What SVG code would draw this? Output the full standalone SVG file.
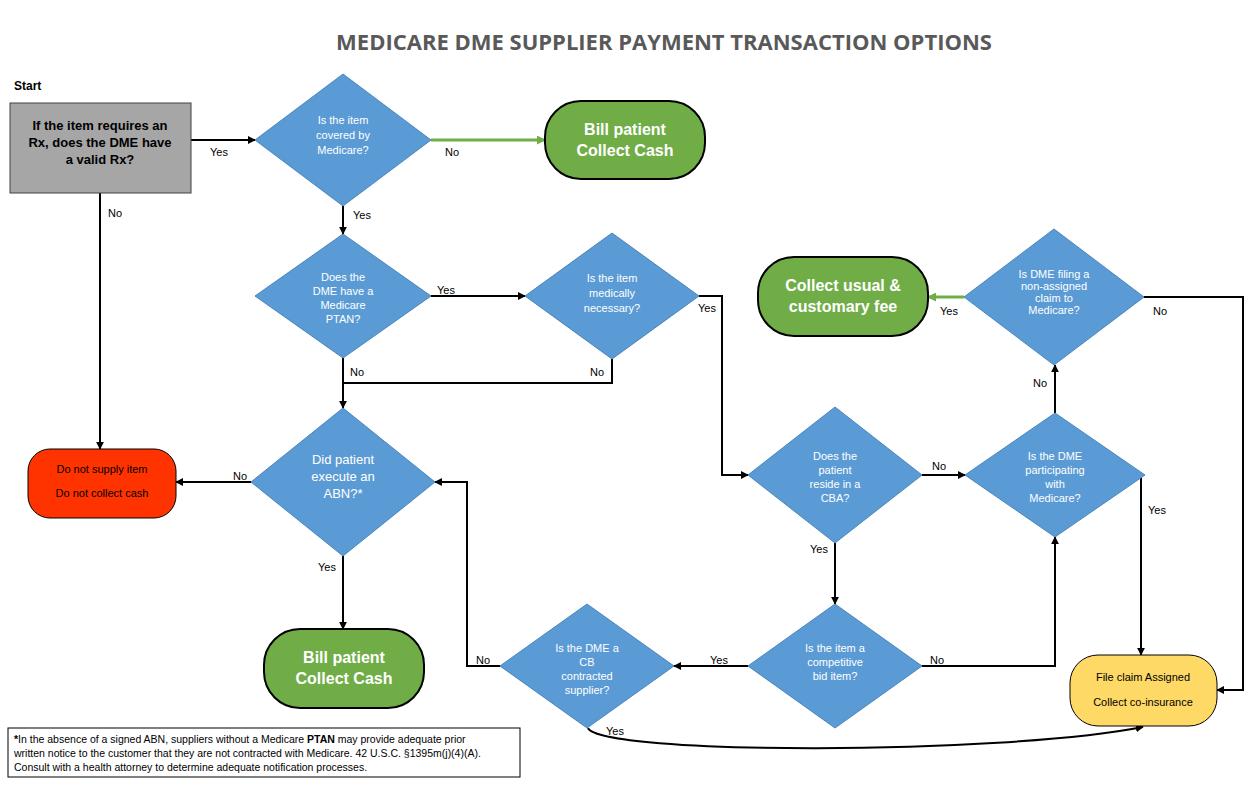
<svg xmlns="http://www.w3.org/2000/svg" width="1257" height="795" viewBox="0 0 1257 795">
<style>
.d{fill:#5b9bd5;stroke:#4a86be;stroke-width:1}
.dt{font-family:"Liberation Sans",Arial,sans-serif;font-size:11px;fill:#fff;text-anchor:middle}
.g{fill:#70ad47;stroke:#000;stroke-width:2}
.gt{font-family:"Liberation Sans",Arial,sans-serif;font-size:16px;font-weight:bold;fill:#fff;text-anchor:middle}
.l{font-family:"Liberation Sans",Arial,sans-serif;font-size:11px;fill:#000}
.c{fill:none;stroke:#000;stroke-width:2}
.cg{fill:none;stroke:#70ad47;stroke-width:3}
</style>
<defs>
<marker id="a" viewBox="0 0 10 10" refX="9" refY="5" markerWidth="4" markerHeight="4" orient="auto"><path d="M0,0L10,5L0,10z" fill="#000"/></marker>
<marker id="ag" viewBox="0 0 10 10" refX="9" refY="5" markerWidth="3" markerHeight="3" orient="auto"><path d="M0,0L10,5L0,10z" fill="#70ad47"/></marker>
</defs>
<rect width="1257" height="795" fill="#fff"/>
<text x="664" y="50" font-family="'Open Sans','Liberation Sans',sans-serif" font-size="22" font-weight="bold" fill="#595959" text-anchor="middle">MEDICARE DME SUPPLIER PAYMENT TRANSACTION OPTIONS</text>
<text x="14" y="90" font-family="'Liberation Sans',Arial,sans-serif" font-size="12" font-weight="bold">Start</text>

<g id="connectors">
<path class="c" d="M191,140H255" marker-end="url(#a)"/>
<path class="cg" d="M431,140H545" marker-end="url(#ag)"/>
<path class="c" d="M343,206V234" marker-end="url(#a)"/>
<path class="c" d="M100,193V449" marker-end="url(#a)"/>
<path class="c" d="M431,296H525" marker-end="url(#a)"/>
<path class="c" d="M343,358V408" marker-end="url(#a)"/>
<path class="c" d="M612,359V383H343"/>
<path class="c" d="M699,296H722V475H748" marker-end="url(#a)"/>
<path class="c" d="M251,482H176" marker-end="url(#a)"/>
<path class="c" d="M343,556V629" marker-end="url(#a)"/>
<path class="c" d="M922,475H965" marker-end="url(#a)"/>
<path class="c" d="M835,543V604" marker-end="url(#a)"/>
<path class="c" d="M1055,413V365" marker-end="url(#a)"/>
<path class="c" d="M1141,478V655" marker-end="url(#a)"/>
<path class="cg" d="M964,297H928" marker-end="url(#ag)"/>
<path class="c" d="M1144,297H1243V690H1217" marker-end="url(#a)"/>
<path class="c" d="M748,666H674" marker-end="url(#a)"/>
<path class="c" d="M922,666H1055V537" marker-end="url(#a)"/>
<path class="c" d="M500,666H467V482H435" marker-end="url(#a)"/>
<path class="c" d="M588,728C600,755 1000,755 1143,727" marker-end="url(#a)"/>
<text class="l" x="210" y="156">Yes</text>
<text class="l" x="445" y="156">No</text>
<text class="l" x="353" y="219">Yes</text>
<text class="l" x="108" y="217">No</text>
<text class="l" x="437" y="294">Yes</text>
<text class="l" x="350" y="376">No</text>
<text class="l" x="590" y="376">No</text>
<text class="l" x="698" y="312">Yes</text>
<text class="l" x="233" y="480">No</text>
<text class="l" x="318" y="571">Yes</text>
<text class="l" x="932" y="470">No</text>
<text class="l" x="810" y="553">Yes</text>
<text class="l" x="1033" y="387">No</text>
<text class="l" x="1148" y="514">Yes</text>
<text class="l" x="940" y="315">Yes</text>
<text class="l" x="1153" y="315">No</text>
<text class="l" x="710" y="664">Yes</text>
<text class="l" x="930" y="664">No</text>
<text class="l" x="476" y="664">No</text>
<text class="l" x="606" y="735">Yes</text>
</g>

<g id="start">
<rect x="10" y="103" width="181" height="90" fill="#a6a6a6" stroke="#404040"/>
<text font-family="'Liberation Sans',Arial,sans-serif" font-size="13" font-weight="bold" fill="#000" text-anchor="middle"><tspan x="100" y="130">If the item requires an</tspan><tspan x="100" y="147">Rx, does the DME have</tspan><tspan x="100" y="164">a valid Rx?</tspan></text>
</g>
<g id="d1"><path class="d" d="M343,74L431,140L343,206L255,140z"/>
<text class="dt"><tspan x="343" y="124">Is the item</tspan><tspan x="343" y="139">covered by</tspan><tspan x="343" y="154">Medicare?</tspan></text></g>
<g id="bill1"><rect class="g" x="545" y="101" width="160" height="78" rx="36"/>
<text class="gt"><tspan x="625" y="135">Bill patient</tspan><tspan x="625" y="156">Collect Cash</tspan></text></g>
<g id="d2"><path class="d" d="M343,234L431,296L343,358L255,296z"/>
<text class="dt"><tspan x="343" y="281">Does the</tspan><tspan x="343" y="295">DME have a</tspan><tspan x="343" y="309">Medicare</tspan><tspan x="343" y="323">PTAN?</tspan></text></g>
<g id="d3"><path class="d" d="M612,233L699,296L612,359L525,296z"/>
<text class="dt"><tspan x="612" y="282">Is the item</tspan><tspan x="612" y="297">medically</tspan><tspan x="612" y="312">necessary?</tspan></text></g>
<g id="d4"><path class="d" d="M343,408L435,482L343,556L251,482z"/>
<text class="dt" font-size="13"><tspan x="343" y="464" font-size="13">Did patient</tspan><tspan x="343" y="481" font-size="13">execute an</tspan><tspan x="343" y="498" font-size="13">ABN?*</tspan></text></g>
<g id="nosupply"><rect x="28" y="449" width="148" height="69" rx="22" fill="#ff3300" stroke="#000" stroke-width="1"/>
<text class="l" text-anchor="middle"><tspan x="102" y="473">Do not supply item</tspan><tspan x="102" y="497">Do not collect cash</tspan></text></g>
<g id="bill2"><rect class="g" x="264" y="629" width="160" height="79" rx="36"/>
<text class="gt"><tspan x="344" y="663">Bill patient</tspan><tspan x="344" y="684">Collect Cash</tspan></text></g>
<g id="d5"><path class="d" d="M835,407L922,475L835,543L748,475z"/>
<text class="dt"><tspan x="835" y="460">Does the</tspan><tspan x="835" y="474">patient</tspan><tspan x="835" y="488">reside in a</tspan><tspan x="835" y="502">CBA?</tspan></text></g>
<g id="d6"><path class="d" d="M1055,413L1145,475L1055,537L965,475z"/>
<text class="dt"><tspan x="1055" y="460">Is the DME</tspan><tspan x="1055" y="474">participating</tspan><tspan x="1055" y="488">with</tspan><tspan x="1055" y="502">Medicare?</tspan></text></g>
<g id="d7"><path class="d" d="M1054,229L1144,297L1054,365L964,297z"/>
<text class="dt" font-size="10"><tspan x="1054" y="278">Is DME filing a</tspan><tspan x="1054" y="290">non-assigned</tspan><tspan x="1054" y="302">claim to</tspan><tspan x="1054" y="314">Medicare?</tspan></text></g>
<g id="usual"><rect class="g" x="758" y="257" width="170" height="79" rx="36"/>
<text class="gt"><tspan x="843" y="291">Collect usual &amp;</tspan><tspan x="843" y="312">customary fee</tspan></text></g>
<g id="d8"><path class="d" d="M835,604L922,666L835,728L748,666z"/>
<text class="dt"><tspan x="835" y="652">Is the item a</tspan><tspan x="835" y="666">competitive</tspan><tspan x="835" y="680">bid item?</tspan></text></g>
<g id="d9"><path class="d" d="M587,604L674,666L587,728L500,666z"/>
<text class="dt"><tspan x="587" y="652">Is the DME a</tspan><tspan x="587" y="666">CB</tspan><tspan x="587" y="680">contracted</tspan><tspan x="587" y="694">supplier?</tspan></text></g>
<g id="fileclaim"><rect x="1070" y="655" width="147" height="71" rx="28" fill="#ffd966" stroke="#000"/>
<text class="l" text-anchor="middle"><tspan x="1143" y="681">File claim Assigned</tspan><tspan x="1143" y="706">Collect co-insurance</tspan></text></g>
<g id="footnote"><rect x="8" y="728" width="512" height="49" fill="#fff" stroke="#000"/>
<text font-family="'Liberation Sans',Arial,sans-serif" font-size="10.5"><tspan x="14" y="743"><tspan font-weight="bold">*</tspan>In the absence of a signed ABN, suppliers without a Medicare <tspan font-weight="bold">PTAN</tspan> may provide adequate prior</tspan><tspan x="14" y="757">written notice to the customer that they are not contracted with Medicare. 42 U.S.C. §1395m(j)(4)(A).</tspan><tspan x="14" y="771">Consult with a health attorney to determine adequate notification processes.</tspan></text></g>
</svg>
